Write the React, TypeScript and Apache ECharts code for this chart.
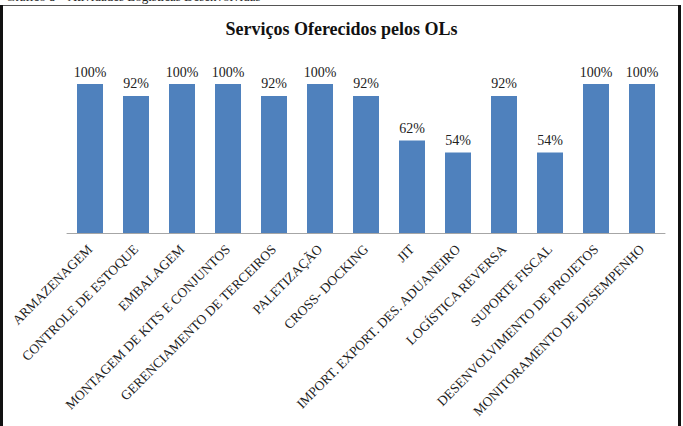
import React, { useEffect, useRef } from "react";
import * as echarts from "echarts";

const categories = [
  "ARMAZENAGEM",
  "CONTROLE DE ESTOQUE",
  "EMBALAGEM",
  "MONTAGEM DE KITS E CONJUNTOS",
  "GERENCIAMENTO DE TERCEIROS",
  "PALETIZAÇÃO",
  "CROSS- DOCKING",
  "JIT",
  "IMPORT. EXPORT. DES. ADUANEIRO",
  "LOGÍSTICA REVERSA",
  "SUPORTE FISCAL",
  "DESENVOLVIMENTO DE PROJETOS",
  "MONITORAMENTO DE DESEMPENHO",
];
const values = [100, 92, 100, 100, 92, 100, 92, 62, 54, 92, 54, 100, 100];
const chartTitle = "Serviços Oferecidos pelos OLs";
const captionText = "Gráfico 8 – Atividades Logísticas Desenvolvidas";

const FONT = "Liberation Serif";

export default function App() {
  const ref = useRef<HTMLDivElement>(null);
  useEffect(() => {
    if (!ref.current) return;
    const chart = echarts.init(ref.current, null, { renderer: "svg" });
    chart.setOption({
      animation: false,
      backgroundColor: "#ffffff",
      textStyle: { fontFamily: FONT },
      title: {
        text: chartTitle,
        left: "center",
        top: 15,
        textStyle: { fontFamily: FONT, fontSize: 18, fontWeight: "bold", color: "#111" },
      },
      graphic: [
        {
          type: "text",
          left: 6,
          top: -10,
          style: { text: captionText, fontFamily: FONT, fontSize: 13, fill: "#222" },
        },
        {
          type: "rect",
          shape: { x: 2, y: 5.5, width: 677, height: 430 },
          style: { fill: "none", stroke: "#555", lineWidth: 1 },
        },
        {
          type: "line",
          shape: { x1: 1.5, y1: 5, x2: 1.5, y2: 426 },
          style: { stroke: "#111", lineWidth: 3 },
        },
        {
          type: "line",
          shape: { x1: 679.5, y1: 5, x2: 679.5, y2: 426 },
          style: { stroke: "#111", lineWidth: 3 },
        },
      ],
      grid: { left: 67, right: 18, top: 84, bottom: 193, containLabel: false },
      xAxis: {
        type: "category",
        data: categories,
        axisLine: { lineStyle: { color: "#a6a6a6", width: 1 } },
        axisTick: { show: false },
        axisLabel: {
          interval: 0,
          rotate: 45,
          margin: 14,
          fontFamily: FONT,
          fontSize: 13.5,
          color: "#222",
        },
      },
      yAxis: {
        type: "value",
        min: 0,
        max: 100,
        show: false,
        splitLine: { show: false },
      },
      series: [
        {
          type: "bar",
          data: values,
          barWidth: 26,
          itemStyle: { color: "#4f81bd" },
          label: {
            show: true,
            position: "top",
            distance: 5,
            formatter: (p: any) => `${p.value}%`,
            fontFamily: FONT,
            fontSize: 14,
            color: "#222",
          },
        },
      ],
    });
    return () => chart.dispose();
  }, []);
  return (
    <div
      ref={ref}
      style={{ position: "fixed", left: 0, top: 0, width: 683, height: 426, background: "#fff" }}
    />
  );
}
